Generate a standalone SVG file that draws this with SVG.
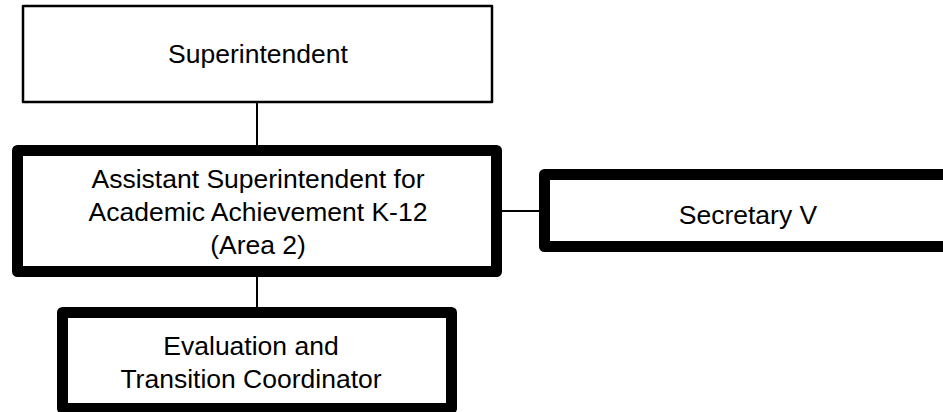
<svg xmlns="http://www.w3.org/2000/svg" width="943" height="412" viewBox="0 0 943 412">
<style>
.box{fill:#fff;stroke:#000;stroke-linejoin:round}
.thin{stroke-width:2.5}
.thick{stroke-width:11}
.lbl{font-family:"Liberation Sans",Arial,sans-serif;font-size:26.5px;fill:#000;text-anchor:middle}
.conn{stroke:#000;stroke-width:2;fill:none}
</style>
<rect width="943" height="412" fill="#fff"/>
<g id="connectors">
<line class="conn" x1="257" y1="103" x2="257" y2="146"/>
<line class="conn" x1="502" y1="211" x2="540" y2="211"/>
<line class="conn" x1="257" y1="276" x2="257" y2="308"/>
</g>
<g id="superintendent">
<rect class="box thin" x="23" y="6" width="469" height="96"/>
<text class="lbl" x="258" y="63">Superintendent</text>
</g>
<g id="assistant-superintendent">
<rect class="box thick" x="17.5" y="150.5" width="479" height="121"/>
<text class="lbl" x="258" y="188">Assistant Superintendent for</text>
<text class="lbl" x="258" y="221">Academic Achievement K-12</text>
<text class="lbl" x="258" y="254">(Area 2)</text>
</g>
<g id="secretary">
<rect class="box thick" x="544.5" y="174.5" width="410" height="72"/>
<text class="lbl" x="748" y="224">Secretary V</text>
</g>
<g id="evaluation-coordinator">
<rect class="box thick" x="62.5" y="312.5" width="389" height="96"/>
<text class="lbl" x="251" y="355">Evaluation and</text>
<text class="lbl" x="251" y="388">Transition Coordinator</text>
</g>
</svg>
